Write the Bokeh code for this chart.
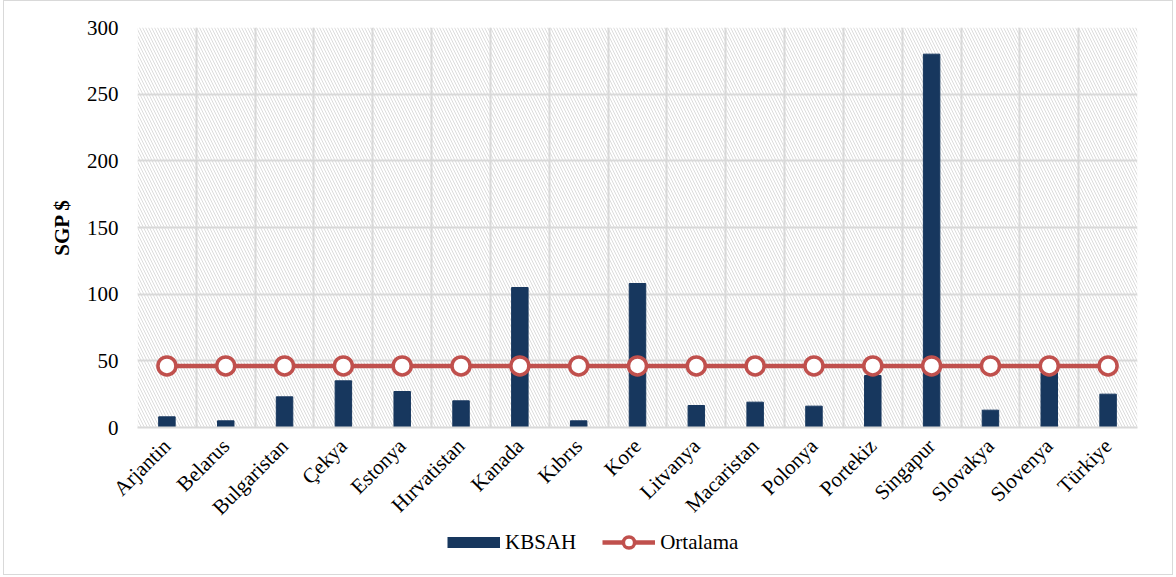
import math
from bokeh.plotting import figure
from bokeh.layouts import column
from bokeh.models import Range1d, FixedTicker, BoxAnnotation, Legend, LegendItem, ColumnDataSource
from bokeh.embed import file_html
from bokeh.resources import INLINE

countries = ["Arjantin", "Belarus", "Bulgaristan", "Çekya", "Estonya", "Hırvatistan", "Kanada",
             "Kıbrıs", "Kore", "Litvanya", "Macaristan", "Polonya", "Portekiz", "Singapur",
             "Slovakya", "Slovenya", "Türkiye"]
kbsah = [8, 5, 23, 35, 27, 20, 105, 5, 108, 16.5, 19, 16, 39, 280, 13, 41, 25]
ortalama = [46.2] * 17
y_ticks = [0, 50, 100, 150, 200, 250, 300]

FONT = "Liberation Serif"
FS = "21px"
BAR = "#17375e"
RED = "#c0504d"
GRID = "#d9d9d9"

xs = list(range(len(countries)))
src = ColumnDataSource(dict(x=xs, kbsah=kbsah, ort=ortalama))

W = 1168
H_MAIN = 529
H_LEG = 44

p = figure(width=W, height=H_MAIN, output_backend="svg", toolbar_location=None,
           x_range=Range1d(-0.5, len(countries) - 0.5), y_range=Range1d(0, 300),
           min_border_left=133, min_border_right=35, min_border_top=26,
           min_border_bottom=H_MAIN - 426)
p.outline_line_color = None
p.background_fill_color = "white"

# hatched plot background
p.add_layout(BoxAnnotation(level="image", fill_color="white", fill_alpha=1,
                           hatch_pattern="\\", hatch_color="#dcdcdc", hatch_scale=6,
                           hatch_weight=1, line_color=None))

# grids
p.xgrid.ticker = FixedTicker(ticks=[i - 0.5 for i in range(len(countries) + 1)])
p.ygrid.ticker = FixedTicker(ticks=y_ticks)
for g in (p.xgrid, p.ygrid):
    g.grid_line_color = GRID
    g.grid_line_width = 2

p.vbar(x="x", top="kbsah", width=0.28, source=src, color=BAR)
p.line(x="x", y="ort", source=src, line_color=RED, line_width=4.5)
p.scatter(x="x", y="ort", source=src, size=18, fill_color="white",
          line_color=RED, line_width=3.5)

# axes
xa = p.xaxis[0]
xa.ticker = FixedTicker(ticks=xs)
xa.major_label_overrides = {i: c for i, c in enumerate(countries)}
xa.major_label_orientation = math.pi / 4
xa.major_label_text_font = FONT
xa.major_label_text_font_size = FS
xa.major_label_text_color = "black"
xa.major_tick_line_color = None
xa.major_tick_out = 0
xa.major_tick_in = 0
xa.minor_tick_line_color = None
xa.axis_line_color = GRID
xa.axis_line_width = 2
xa.major_label_standoff = 15

ya = p.yaxis[0]
ya.ticker = FixedTicker(ticks=y_ticks)
ya.major_label_text_font = FONT
ya.major_label_text_font_size = FS
ya.major_label_text_color = "black"
ya.major_tick_line_color = None
ya.major_tick_out = 0
ya.major_tick_in = 0
ya.minor_tick_line_color = None
ya.axis_line_color = None
ya.major_label_standoff = 19
ya.axis_label = "SGP $"
ya.axis_label_text_font = FONT
ya.axis_label_text_font_size = FS
ya.axis_label_text_font_style = "bold"
ya.axis_label_text_color = "black"
ya.axis_label_standoff = 10

# legend strip (legend-only renderers sit outside the visible range)
q = figure(width=W, height=H_LEG, output_backend="svg", toolbar_location=None,
           x_axis_location=None, y_axis_location=None,
           x_range=Range1d(-0.5, len(countries) - 0.5), y_range=Range1d(1000, 1001),
           min_border_left=0, min_border_right=0, min_border_top=0, min_border_bottom=0)
q.outline_line_color = None
q.grid.visible = False
q.background_fill_color = "white"
sw_bar = q.line(x="x", y="kbsah", source=src, line_color=BAR, line_width=11)
sw_line = q.line(x="x", y="ort", source=src, line_color=RED, line_width=4.5)
sw_pts = q.scatter(x="x", y="ort", source=src, size=18, fill_color="white",
                   line_color=RED, line_width=3.5)

legend = Legend(items=[LegendItem(label="KBSAH", renderers=[sw_bar]),
                       LegendItem(label="Ortalama", renderers=[sw_line, sw_pts])],
                location=(310, 18), orientation="horizontal",
                glyph_width=53, glyph_height=28, label_standoff=5, spacing=26,
                label_text_font=FONT, label_text_font_size=FS,
                label_text_color="black", padding=0, margin=0,
                border_line_color=None, background_fill_alpha=0)
q.add_layout(legend, "center")

layout = column(p, q, spacing=0,
                styles={"border": "1px solid #d9d9d9", "margin-left": "3px"})

open("out.html", "w").write(file_html(layout, INLINE))
